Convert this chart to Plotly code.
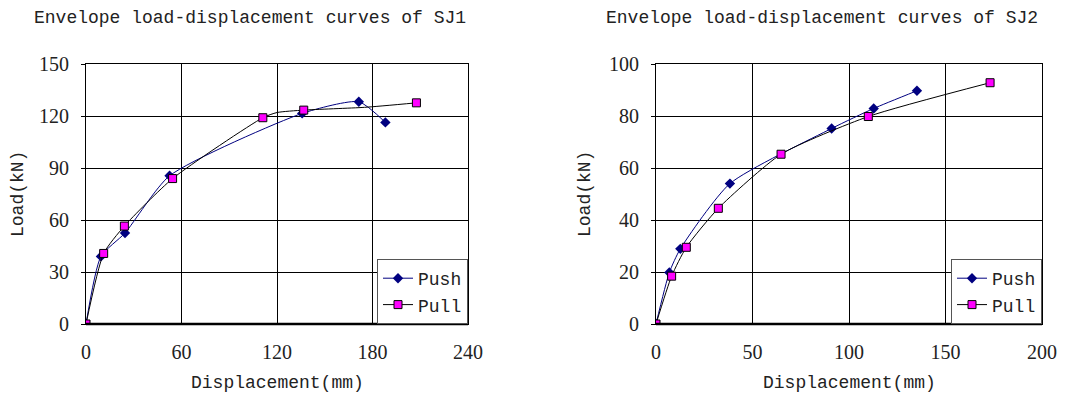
import plotly.graph_objects as go

# SJ1 data
sj1_push_x = [0, 9.4, 24.5, 52.5, 135.8, 171.4, 188.1]
sj1_push_y = [0, 39.0, 52.5, 85.5, 121.5, 128.2, 116.3]
sj1_pull_x = [0, 11.1, 24.1, 54.4, 111.1, 120.0, 136.8, 175.0, 207.6]
sj1_pull_y = [0, 40.7, 56.5, 83.9, 119.0, 122.0, 123.4, 125.0, 127.6]
sj1_pull_mark = [True, True, True, True, True, False, True, False, True]

# SJ2 data
sj2_push_x = [0, 6.9, 12.6, 38.3, 91.0, 112.8, 135.2]
sj2_push_y = [0, 19.8, 28.9, 54.0, 75.2, 82.9, 89.7]
sj2_pull_x = [0, 8.1, 15.7, 32.3, 64.8, 110.0, 173.1]
sj2_pull_y = [0, 18.4, 29.5, 44.5, 65.3, 79.8, 92.8]

titles = ["Envelope load-displacement curves of SJ1", "Envelope load-displacement curves of SJ2"]
x_ticks = [[0, 60, 120, 180, 240], [0, 50, 100, 150, 200]]
y_ticks = [[0, 30, 60, 90, 120, 150], [0, 20, 40, 60, 80, 100]]

NAVY = "#000080"
MAG = "#FF00FF"
MONO = "Liberation Mono"
SERIF = "Liberation Serif"
TXT = "#222"

fig = go.Figure()

def add_series(px, py, qx, qy, qmask, xa, ya, legend):
    fig.add_trace(go.Scatter(x=px, y=py, mode="lines+markers", name="Push",
                             line=dict(color=NAVY, width=1, shape="spline", smoothing=0.6),
                             marker=dict(symbol="diamond", size=8, color=NAVY),
                             xaxis=xa, yaxis=ya, legend=legend))
    fig.add_trace(go.Scatter(x=qx, y=qy, mode="lines", showlegend=False,
                             line=dict(color="black", width=1, shape="spline", smoothing=0.6),
                             xaxis=xa, yaxis=ya, hoverinfo="skip"))
    mx = [x for x, m in zip(qx, qmask) if m]
    my = [y for y, m in zip(qy, qmask) if m]
    fig.add_trace(go.Scatter(x=mx, y=my, mode="markers", showlegend=False,
                             marker=dict(symbol="square", size=8, color=MAG,
                                         line=dict(color="black", width=1)),
                             xaxis=xa, yaxis=ya))
    fig.add_trace(go.Scatter(x=[None], y=[None], mode="lines+markers", name="Pull",
                             line=dict(color="black", width=1),
                             marker=dict(symbol="square", size=8, color=MAG,
                                         line=dict(color="black", width=1)),
                             xaxis=xa, yaxis=ya, legend=legend))

add_series(sj1_push_x, sj1_push_y, sj1_pull_x, sj1_pull_y, sj1_pull_mark, "x", "y", "legend")
add_series(sj2_push_x, sj2_push_y, sj2_pull_x, sj2_pull_y, [True] * len(sj2_pull_x), "x2", "y2", "legend2")

W, H = 1075, 396
dom_x = [[86 / W, 468 / W], [656 / W, 1042 / W]]
dom_y = [(H - 324) / H, (H - 64) / H]

layout = dict(
    template="none",
    width=W, height=H, margin=dict(l=0, r=0, t=0, b=0, autoexpand=False),
    paper_bgcolor="white", plot_bgcolor="white", showlegend=True,
)
for i, (xa, ya) in enumerate([("xaxis", "yaxis"), ("xaxis2", "yaxis2")]):
    xr = [x_ticks[i][0], x_ticks[i][-1]]
    yr = [y_ticks[i][0], y_ticks[i][-1]]
    layout[xa] = dict(domain=dom_x[i], range=xr, tickvals=x_ticks[i], showgrid=True,
                      gridcolor="black", gridwidth=1, zeroline=False, automargin=False,
                      showline=True, linecolor="black", linewidth=1, mirror=True,
                      ticks="", tickfont=dict(family=SERIF, size=20, color=TXT),
                      ticklabelstandoff=10, anchor="y" if i == 0 else "y2", fixedrange=True)
    layout[ya] = dict(domain=dom_y, range=yr, tickvals=y_ticks[i], showgrid=True,
                      gridcolor="black", gridwidth=1, zeroline=False, automargin=False,
                      showline=True, linecolor="black", linewidth=1, mirror=True,
                      ticks="outside", ticklen=4, tickcolor="black",
                      tickfont=dict(family=SERIF, size=20, color=TXT),
                      ticklabelstandoff=8, anchor="x" if i == 0 else "x2", fixedrange=True)
    leg = "legend" if i == 0 else "legend2"
    layout[leg] = dict(x=dom_x[i][1], xanchor="right", y=dom_y[0], yanchor="bottom",
                       xref="paper", yref="paper",
                       bgcolor="white", bordercolor="#555", borderwidth=1,
                       font=dict(family=MONO, size=18, color=TXT),
                       tracegroupgap=0, itemwidth=30)

fig.update_layout(**layout)

shapes = []
for i in range(2):
    shapes.append(dict(type="line", xref="paper", yref="paper",
                       x0=dom_x[i][0], x1=dom_x[i][1], y0=dom_y[0], y1=dom_y[0],
                       line=dict(color="black", width=2.5), layer="above"))
fig.update_layout(shapes=shapes)

ann = []
title_x = [250, 822]
xlab_x = [277, 849]
ylab_x = [18, 585]
for i in range(2):
    ann.append(dict(text=titles[i], x=title_x[i] / W, y=1 - 18 / H, xref="paper", yref="paper",
                    showarrow=False, font=dict(family=MONO, size=18, color=TXT),
                    xanchor="center", yanchor="middle"))
    ann.append(dict(text="Displacement(mm)", x=xlab_x[i] / W, y=1 - 383 / H, xref="paper", yref="paper",
                    showarrow=False, font=dict(family=MONO, size=18, color=TXT),
                    xanchor="center", yanchor="middle"))
    ann.append(dict(text="Load(kN)", x=ylab_x[i] / W, y=1 - 194 / H, xref="paper", yref="paper",
                    showarrow=False, textangle=-90, font=dict(family=MONO, size=18, color=TXT),
                    xanchor="center", yanchor="middle"))
fig.update_layout(annotations=ann)

fig.write_html("out.html")
